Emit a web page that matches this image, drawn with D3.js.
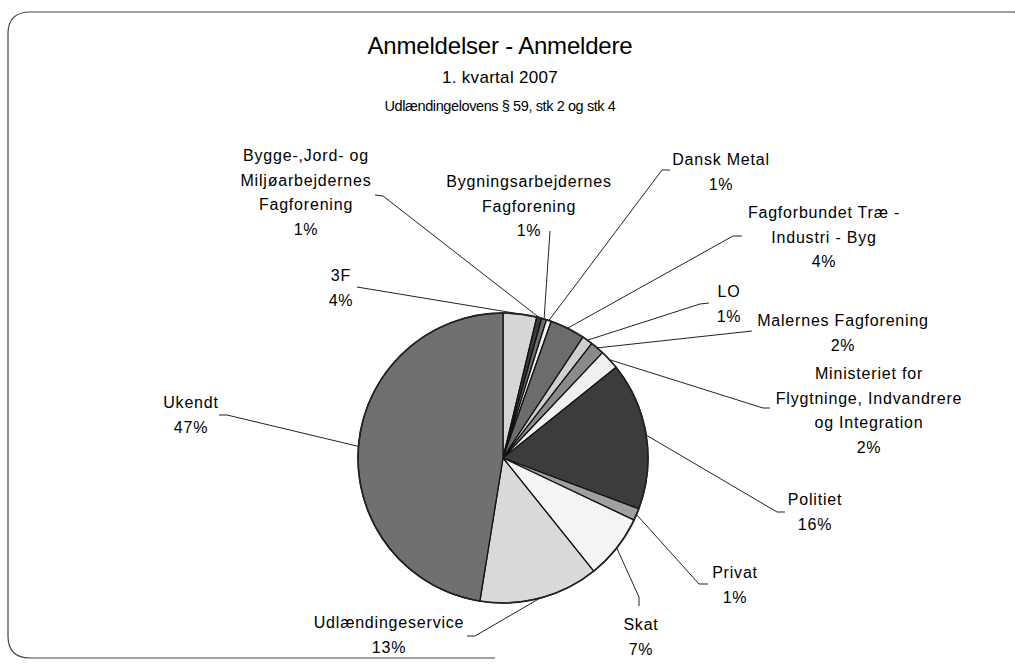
<!DOCTYPE html>
<html><head><meta charset="utf-8">
<script src="https://cdn.jsdelivr.net/npm/d3@7"></script>
<style>
body{margin:0;background:#fff}
svg{display:block}
text{font-family:"Liberation Sans",Arial,Helvetica,sans-serif;fill:#000}
</style>
</head><body>
<svg id="c" width="1015" height="666"></svg>
<script>
// ---- data ----
const categories = [
  "3F",
  "Bygge-,Jord- og\nMiljøarbejdernes\nFagforening",
  "Bygningsarbejdernes\nFagforening",
  "Dansk Metal",
  "Fagforbundet Træ -\nIndustri - Byg",
  "LO",
  "Malernes Fagforening",
  "Ministeriet for\nFlygtninge, Indvandrere\nog Integration",
  "Politiet",
  "Privat",
  "Skat",
  "Udlændingeservice",
  "Ukendt"
];
const values = [3.75, 0.55, 0.55, 0.55, 3.9, 1.2, 1.55, 2.2, 16.45, 1.35, 7.2, 13.3, 47.45];
const titleText = "Anmeldelser - Anmeldere";
const subtitle1 = "1. kvartal 2007";
const subtitle2 = "Udlændingelovens § 59, stk 2 og stk 4";

// ---- style / layout ----
const sliceColors = ["#d6d6d6","#3a3a3a","#6e6e6e","#f2f2f2","#6c6c6c","#cfcfcf","#8a8a8a","#f0f0f0","#3c3c3c","#a0a0a0","#f4f4f4","#d9d9d9","#707070"];
const labelLayout = [
  {x:341, y:281, lx:357, ly:287},
  {x:306, y:161, lx:375, ly:195, ex:383, ey:196},
  {x:529, y:187, lx:550, ly:231},
  {x:721, y:165, lx:670, ly:170, ex:662, ey:170},
  {x:824, y:218, lx:742, ly:236, ex:733, ey:236},
  {x:729, y:297, lx:709, ly:303, ex:700, ey:304},
  {x:843, y:326, lx:752, ly:331},
  {x:869, y:379, lx:770, ly:408, ex:763, ey:408},
  {x:815, y:505, lx:785, ly:512, ex:777, ey:512},
  {x:735, y:578, lx:708, ly:584, ex:699, ey:584},
  {x:641, y:630, lx:639, ly:606, ex:639, ey:597},
  {x:389, y:628, lx:467, ly:636, ex:475, ey:636},
  {x:191, y:408, lx:219, ly:415, ex:227, ey:415}
];
const cx = 503, cy = 458, R = 145, lineH = 24.5;

const svg = d3.select("#c");

// frame (scanned border, partially visible)
svg.append("path")
  .attr("d", "M495,658 L30,658 Q8,658 8,636 L8,34 Q8,12 30,12 L1012,12 Q1034,12 1034,34")
  .attr("fill","none").attr("stroke","#444").attr("stroke-width",1.2);

// titles
svg.append("text").attr("x",500).attr("y",54).attr("text-anchor","middle")
  .style("font-size","24px").style("letter-spacing","-0.2px").text(titleText);
svg.append("text").attr("x",500).attr("y",83).attr("text-anchor","middle")
  .style("font-size","17px").style("letter-spacing","0.3px").text(subtitle1);
svg.append("text").attr("x",500).attr("y",111).attr("text-anchor","middle")
  .style("font-size","14.5px").style("letter-spacing","-0.4px").text(subtitle2);

// pie
const data = categories.map((c,i)=>({name:c, value:values[i], i}));
const total = d3.sum(values);
const pie = d3.pie().value(d=>d.value).sort(null).startAngle(0).endAngle(2*Math.PI);
const arcs = pie(data);
const arc = d3.arc().innerRadius(0).outerRadius(R);
const edge = d3.arc().innerRadius(R).outerRadius(R);

const g = svg.append("g").attr("transform",`translate(${cx},${cy})`);
g.selectAll("path.slice").data(arcs).join("path")
  .attr("class","slice")
  .attr("d",arc)
  .attr("fill",d=>sliceColors[d.index])
  .attr("stroke","#111").attr("stroke-width",1.3).attr("stroke-linejoin","round");
g.append("circle").attr("r",R).attr("fill","none").attr("stroke","#222").attr("stroke-width",1.6);

// leader lines
const fmt = v => Math.round(v/total*100) + "%";
svg.append("g").selectAll("path").data(arcs).join("path")
  .attr("fill","none").attr("stroke","#222").attr("stroke-width",1)
  .attr("d", d=>{
    const L = labelLayout[d.index];
    const p = edge.centroid(d);
    const pts = [[L.lx,L.ly]];
    if (L.ex !== undefined) pts.push([L.ex,L.ey]);
    pts.push([cx+p[0], cy+p[1]]);
    return d3.line()(pts);
  });

// labels
const lab = svg.append("g").selectAll("text").data(arcs).join("text")
  .attr("text-anchor","middle")
  .style("font-size","16px").style("letter-spacing","0.8px");
lab.each(function(d){
  const L = labelLayout[d.index];
  const lines = d.data.name.split("\n").concat([fmt(d.data.value)]);
  d3.select(this).selectAll("tspan").data(lines).join("tspan")
    .attr("x",L.x).attr("y",(t,k)=>L.y + k*lineH).text(t=>t);
});
</script>
</body></html>
